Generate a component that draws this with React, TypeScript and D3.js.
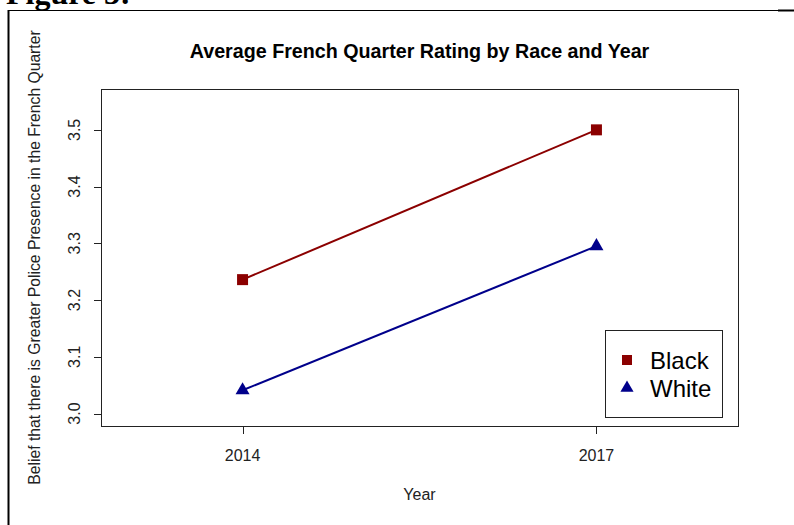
import { useEffect, useRef } from "react";
import * as d3 from "d3";

// chart values
const years = [2014, 2017];
const blackValues = [3.236, 3.5];
const whiteValues = [3.041, 3.295];
const yTicks = [3.0, 3.1, 3.2, 3.3, 3.4, 3.5];
const seriesNames = ["Black", "White"];
const seriesColors = ["#8b0000", "#00008b"];

const width = 794;
const height = 525;
const plot = { left: 101, right: 738, top: 89, bottom: 426 };

const font = "Arial, 'Liberation Sans', sans-serif";

export default function App() {
  const ref = useRef<SVGSVGElement>(null);

  useEffect(() => {
    const svg = d3.select(ref.current);
    svg.selectAll("*").remove();

    // R-style limits: xlim 2013-2018, ylim 3.0-3.55, each padded by 4%
    const x = d3.scaleLinear().domain([2012.8, 2018.2]).range([plot.left, plot.right]);
    const y = d3.scaleLinear().domain([2.978, 3.572]).range([plot.bottom, plot.top]);

    // page bits: caption cut off at the top and the figure frame
    svg.append("text")
      .attr("x", 6)
      .attr("y", 4)
      .attr("font-family", "'Liberation Serif', 'Times New Roman', serif")
      .attr("font-weight", "bold")
      .attr("font-size", 32)
      .text("Figure 3:");

    svg.append("line")
      .attr("x1", 8).attr("x2", 780).attr("y1", 10.5).attr("y2", 10.5)
      .attr("stroke", "#000").attr("stroke-width", 1);
    svg.append("line")
      .attr("x1", 778).attr("x2", 794).attr("y1", 10.5).attr("y2", 10.5)
      .attr("stroke", "#000").attr("stroke-width", 2);
    svg.append("line")
      .attr("x1", 8.5).attr("x2", 8.5).attr("y1", 10).attr("y2", height)
      .attr("stroke", "#000").attr("stroke-width", 2);

    // title
    svg.append("text")
      .attr("x", (plot.left + plot.right) / 2)
      .attr("y", 58)
      .attr("text-anchor", "middle")
      .attr("font-family", font)
      .attr("font-weight", "bold")
      .attr("font-size", 19.7)
      .text("Average French Quarter Rating by Race and Year");

    // plot box
    svg.append("rect")
      .attr("x", plot.left + 0.5)
      .attr("y", plot.top + 0.5)
      .attr("width", plot.right - plot.left)
      .attr("height", plot.bottom - plot.top)
      .attr("fill", "none")
      .attr("stroke", "#222");

    // y axis
    const yAxis = svg.append("g");
    yAxis.selectAll("line")
      .data(yTicks)
      .join("line")
      .attr("x1", plot.left - 7).attr("x2", plot.left)
      .attr("y1", d => Math.round(y(d)) + 0.5).attr("y2", d => Math.round(y(d)) + 0.5)
      .attr("stroke", "#222");
    yAxis.selectAll("text")
      .data(yTicks)
      .join("text")
      .attr("transform", d => `translate(80,${y(d)}) rotate(-90)`)
      .attr("text-anchor", "middle")
      .attr("font-family", font)
      .attr("font-size", 16)
      .attr("fill", "#222")
      .text(d => d.toFixed(1));

    // x axis
    const xAxis = svg.append("g");
    xAxis.selectAll("line")
      .data(years)
      .join("line")
      .attr("x1", d => Math.round(x(d)) + 0.5).attr("x2", d => Math.round(x(d)) + 0.5)
      .attr("y1", plot.bottom).attr("y2", plot.bottom + 8)
      .attr("stroke", "#222");
    xAxis.selectAll("text")
      .data(years)
      .join("text")
      .attr("x", d => x(d))
      .attr("y", 461)
      .attr("text-anchor", "middle")
      .attr("font-family", font)
      .attr("font-size", 16)
      .attr("fill", "#222")
      .text(d => d);

    // axis titles
    svg.append("text")
      .attr("x", (plot.left + plot.right) / 2)
      .attr("y", 500)
      .attr("text-anchor", "middle")
      .attr("font-family", font)
      .attr("font-size", 16)
      .attr("fill", "#222")
      .text("Year");
    svg.append("text")
      .attr("transform", `translate(40,${(plot.top + plot.bottom) / 2}) rotate(-90)`)
      .attr("text-anchor", "middle")
      .attr("font-family", font)
      .attr("font-size", 15.7)
      .attr("fill", "#222")
      .text("Belief that there is Greater Police Presence in the French Quarter");

    // lines and markers
    const series = [blackValues, whiteValues];
    const symbols = [
      d3.symbol().type(d3.symbolSquare).size(121),
      d3.symbol().type(d3.symbolTriangle).size(85),
    ];
    const line = d3.line<number>()
      .x((_, i) => x(years[i]))
      .y(d => y(d));

    series.forEach((values, s) => {
      svg.append("path")
        .attr("d", line(values))
        .attr("fill", "none")
        .attr("stroke", seriesColors[s])
        .attr("stroke-width", 2);
      svg.append("g")
        .selectAll("path")
        .data(values)
        .join("path")
        .attr("transform", (d, i) => `translate(${x(years[i])},${y(d)})`)
        .attr("d", symbols[s]())
        .attr("fill", seriesColors[s]);
    });

    // legend
    const legend = svg.append("g");
    legend.append("rect")
      .attr("x", 605.5).attr("y", 330.5)
      .attr("width", 117).attr("height", 87)
      .attr("fill", "#fff")
      .attr("stroke", "#222");
    seriesNames.forEach((name, i) => {
      const cy = 360 + i * 28;
      legend.append("path")
        .attr("transform", `translate(627,${cy})`)
        .attr("d", (i === 0
          ? d3.symbol().type(d3.symbolSquare).size(100)
          : d3.symbol().type(d3.symbolTriangle).size(75))())
        .attr("fill", seriesColors[i]);
      legend.append("text")
        .attr("x", 650)
        .attr("y", cy + 9)
        .attr("font-family", font)
        .attr("font-size", 24)
        .attr("fill", "#000")
        .text(name);
    });
  }, []);

  return (
    <svg
      ref={ref}
      width={width}
      height={height}
      style={{ position: "absolute", left: 0, top: 0, background: "#fff" }}
    />
  );
}
